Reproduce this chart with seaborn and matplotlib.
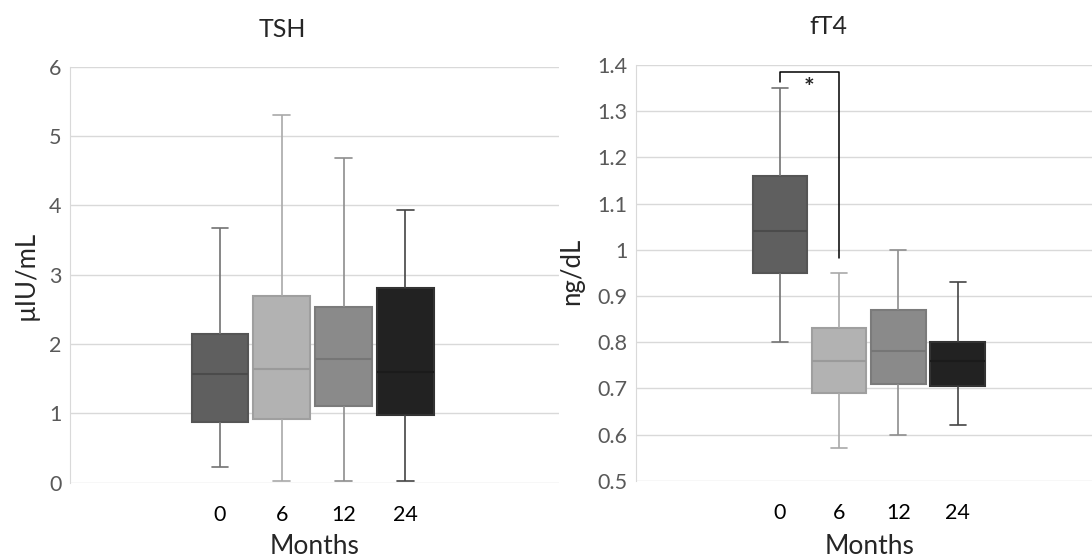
import pandas as pd
import matplotlib.pyplot as plt
import seaborn as sns

# --- Data ---
months = ["0", "6", "12", "24"]

tsh_low = [0.22, 0.02, 0.02, 0.03]
tsh_q1 = [0.88, 0.92, 1.11, 0.97]
tsh_med = [1.57, 1.64, 1.78, 1.60]
tsh_q3 = [2.14, 2.69, 2.54, 2.81]
tsh_high = [3.68, 5.31, 4.69, 3.94]

ft4_low = [0.80, 0.57, 0.60, 0.62]
ft4_q1 = [0.95, 0.69, 0.71, 0.705]
ft4_med = [1.04, 0.76, 0.78, 0.76]
ft4_q3 = [1.16, 0.83, 0.87, 0.80]
ft4_high = [1.35, 0.95, 1.00, 0.93]

# significance bracket between month 0 and month 6 (fT4)
sig_pair = (0, 1)
sig_top = 1.384
sig_left_end = 1.364
sig_right_end = 0.982
sig_label = "*"

fills = ["#5f5f5f", "#b2b2b2", "#8a8a8a", "#222222"]
edges = ["#555555", "#9f9f9f", "#7b7b7b", "#333333"]
whisk = ["#727272", "#a9a9a9", "#8e8e8e", "#444444"]
meds = ["#4b4b4b", "#9a9a9a", "#767676", "#1b1b1b"]


def five_point_frame(low, q1, med, q3, high):
    # five values per month -> percentiles land exactly on q1/median/q3
    rows = []
    for i, m in enumerate(months):
        for v in (low[i], q1[i], med[i], q3[i], high[i]):
            rows.append({"Months": m, "value": v})
    return pd.DataFrame(rows)


tsh = five_point_frame(tsh_low, tsh_q1, tsh_med, tsh_q3, tsh_high)
ft4 = five_point_frame(ft4_low, ft4_q1, ft4_med, ft4_q3, ft4_high)

sns.set_style("white")
plt.rcParams["font.family"] = ["Lato", "DejaVu Sans"]

W, H = 1092, 560
fig = plt.figure(figsize=(W / 100, H / 100), dpi=100)
ax1 = fig.add_axes([70 / W, (H - 482.7) / H, 489 / W, 416 / H])
ax2 = fig.add_axes([636 / W, (H - 480.7) / H, 456 / W, 415.7 / H])


def draw(ax, df, ylim, yticks, xlim):
    sns.boxplot(data=df, x="Months", y="value", hue="Months", order=months,
                palette=fills, whis=(0, 100), width=0.92, legend=False,
                capwidths=0.27, linewidth=1.3, ax=ax)
    for i, c in enumerate(ax.containers):
        for b in c.boxes:
            b.set_facecolor(fills[i])
            b.set_edgecolor(edges[i])
            b.set_linewidth(1.5)
        for ln in c.whiskers + c.caps:
            ln.set_color(whisk[i])
            ln.set_linewidth(1.2)
        for ln in c.medians:
            ln.set_color(meds[i])
            ln.set_linewidth(1.5)
    ax.set_ylim(*ylim)
    ax.set_xlim(*xlim)
    ax.set_yticks(yticks)
    ax.set_yticklabels([f"{t:g}" for t in yticks])
    ax.grid(axis="y", color="#d9d9d9", linewidth=1)
    ax.set_axisbelow(True)
    for s in ["top", "right", "bottom"]:
        ax.spines[s].set_visible(False)
    ax.spines["left"].set_color("#d9d9d9")
    ax.tick_params(axis="y", length=0, pad=6, labelsize=15.5, labelcolor="#595959")
    ax.tick_params(axis="x", length=0, pad=16, labelsize=15.5, labelcolor="black")
    ax.set_xlabel("")
    ax.set_ylabel("")


draw(ax1, tsh, (0, 6), [0, 1, 2, 3, 4, 5, 6], (-2.43, 5.49))
draw(ax2, ft4, (0.5, 1.4), [0.5, 0.6, 0.7, 0.8, 0.9, 1.0, 1.1, 1.2, 1.3, 1.4], (-2.43, 5.27))

# significance bracket
a, b = sig_pair
ax2.plot([a, a, b, b], [sig_left_end, sig_top, sig_top, sig_right_end],
         color="black", linewidth=1.1)
ax2.text(a + 0.49 * (b - a), 1.35, sig_label, ha="center", va="center",
         fontsize=18, fontweight="bold")

# titles and axis labels
fig.text(282 / W, 1 - 29.5 / H, "TSH", ha="center", va="center", fontsize=18)
fig.text(828 / W, 1 - 27 / H, "fT4", ha="center", va="center", fontsize=18)
fig.text(315 / W, 1 - 559 / H, "Months", ha="center", va="bottom", fontsize=19)
fig.text(870 / W, 1 - 559 / H, "Months", ha="center", va="bottom", fontsize=19)
fig.text(26 / W, 1 - 275 / H, "µIU/mL", ha="center", va="center", rotation=90, fontsize=18.5)
fig.text(572 / W, 1 - 271 / H, "ng/dL", ha="center", va="center", rotation=90, fontsize=18.5)

fig.savefig("out.png", dpi=100)
